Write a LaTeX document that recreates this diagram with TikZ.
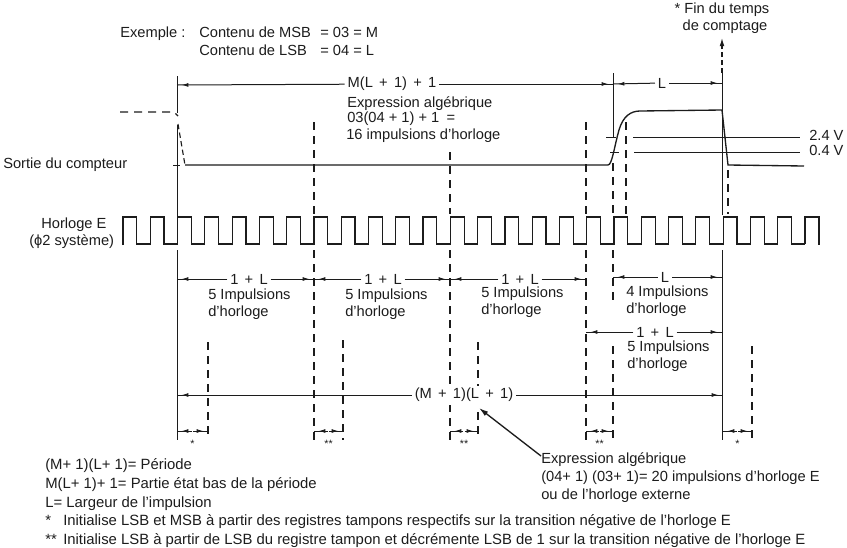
\documentclass[tikz,border=0pt]{standalone}
\usepackage{fontspec}
\usepackage{xcolor}
\usetikzlibrary{arrows.meta,decorations.markings}
\setmainfont{Liberation Sans}
\definecolor{ink}{RGB}{28,28,28}
\newcommand{\esp}{\hspace{4.7pt}}
\tikzset{
  trait/.style={ink,line width=0.75pt},
  signal/.style={ink,line width=1pt},
  tiret/.style={ink,line width=0.85pt,dash pattern=on 6pt off 4.5pt},
  cote/.style={ink,line width=0.75pt,postaction={decorate},
    decoration={markings,mark=at position -3.5pt with {\arrow{Latex[length=5pt,width=3pt]}}}},
  texte/.style={anchor=base west,inner sep=0pt,text=ink,font=\fontsize{11}{13}\selectfont},
  petit/.style={anchor=base west,inner sep=0pt,text=ink,font=\fontsize{11.15}{13}\selectfont},
  bloc/.style={anchor=west,align=left,inner sep=0pt,text=ink,font=\fontsize{11}{13}\selectfont},
  label/.style={inner sep=2pt,text=ink,font=\fontsize{11}{13}\selectfont}
}
\begin{document}
\begin{tikzpicture}[x=0.75pt,y=-0.75pt]
  \useasboundingbox (0,0) rectangle (847,547);
  % textes du haut
  \node[texte] (exemple) at (120,37) {Exemple :};
  \node[texte] (msb) at (199,37) {Contenu de MSB};
  \node[texte] (msbval) at (320,37) {= 03 = M};
  \node[texte] (lsb) at (199,55) {Contenu de LSB};
  \node[texte] (lsbval) at (320,55) {= 04 = L};
  \node[label] (fin) at (722,10) {* Fin du temps};
  \node[label] (comptage) at (725,27) {de comptage};
  \node[texte] (expra) at (347,107) {Expression algébrique};
  \node[texte] (exprb) at (347,122) {03(04 + 1) + 1\enspace =};
  \node[texte] (exprc) at (346,139) {16 impulsions d'horloge};
  \node[texte] (sortie) at (3,168) {Sortie du compteur};
  \node[texte] (horloge) at (41,228) {Horloge E};
  \node[texte] (phase) at (29,245) {(ϕ2 système)};
  \node[texte] (volta) at (809,140) {2.4 V};
  \node[texte] (voltb) at (809,155) {0.4 V};

  % sortie du compteur
  \draw[tiret] (120,112)--(174,112)--(178,116);
  \draw[tiret,dash pattern=on 4pt off 2.5pt] (178,124)--(185,165);
  \draw[signal] (185,165)--(608,165) .. controls (612,165) and (614,148) .. (619,130) .. controls (623,116) and (631,111) .. (640,111)--(722,110)--(728,165)--(804,166);
  \draw[trait] (606,137)--(616,137);
  \draw[trait] (633,137)--(800,137);
  \draw[trait] (610,152)--(619,152);
  \draw[trait] (634,152)--(800,152);
  \draw[trait] (173,165)--(180,165);

  % horloge E
  \foreach \n in {0,...,24} {
    \pgfmathsetmacro{\xa}{123+27.28*\n}
    \draw[trait,line width=0.9pt] (\xa,245)--(\xa,217)--(\xa+13.8,217)--(\xa+13.8,244)--(\xa+27.28,244);
  }
  \draw[trait,line width=0.9pt] (805,244)--(805,217)--(819,217)--(819,245);

  % verticales
  \draw[trait] (177,76)--(177,113);
  \draw[trait] (177,125)--(177,216);
  \draw[trait] (177,250)--(177,440);
  \draw[trait] (613,73)--(613,138);
  \draw[tiret] (613,163)--(613,216);
  \draw[tiret] (613,250)--(613,300);
  \draw[tiret] (613,346)--(613,440);
  \draw[tiret] (626,122)--(626,216);
  \draw[trait] (722,73)--(722,215);
  \draw[trait] (722,250)--(722,440);
  \draw[tiret] (728,170)--(728,214);
  \draw[tiret] (314,122)--(314,214);
  \draw[tiret] (314,250)--(314,440);
  \draw[tiret] (450,152)--(450,214);
  \draw[tiret] (450,250)--(450,440);
  \draw[tiret] (586,122)--(586,214);
  \draw[tiret] (586,250)--(586,440);
  \draw[tiret] (208,342)--(208,440);
  \draw[tiret] (343,340)--(343,440);
  \draw[tiret] (478,342)--(478,403);
  \draw[tiret] (478,412)--(478,440);
  \draw[tiret] (752,346)--(752,440);

  \coordinate (tfin) at (722,73);
  \coordinate (tfinh) at (722,38);
  \draw[tiret,dash pattern=on 4pt off 2pt,-{Latex[length=6pt,width=3.5pt]}] (tfin)--(tfinh);

  % cotes
  \coordinate (ha) at (177,85);
  \coordinate (hb) at (613,84);
  \coordinate (hc) at (722,83);
  \node[label] (ml) at (392,84) {M(L\esp+\esp1)\esp+\esp1};
  \node[label] (lh) at (662,83) {L};
  \draw[cote] (ml)--(ha);
  \draw[cote] (ml)--(hb);
  \draw[cote] (lh)--(hb);
  \draw[cote] (lh)--(hc);

  \coordinate (ba) at (177,279);
  \coordinate (bb) at (314,279);
  \coordinate (bc) at (450,279);
  \coordinate (bd) at (586,279);
  \node[label] (una) at (249,279) {1\esp+\esp L};
  \node[label] (unb) at (383,279) {1\esp+\esp L};
  \node[label] (unc) at (520,279) {1\esp+\esp L};
  \draw[cote] (una)--(ba);
  \draw[cote] (una)--(bb);
  \draw[cote] (unb)--(bb);
  \draw[cote] (unb)--(bc);
  \draw[cote] (unc)--(bc);
  \draw[cote] (unc)--(bd);

  \coordinate (ca) at (613,277);
  \coordinate (cb) at (722,277);
  \node[label] (lc) at (665,277) {L};
  \draw[trait] (613,277)--(613,284);
  \draw[cote] (lc)--(ca);
  \draw[cote] (lc)--(cb);

  \coordinate (da) at (586,332);
  \coordinate (db) at (722,332);
  \node[label] (und) at (655,332) {1\esp+\esp L};
  \draw[cote] (und)--(da);
  \draw[cote] (und)--(db);

  \coordinate (ea) at (177,395);
  \coordinate (eb) at (723,395);
  \node[label,fill=white] (per) at (464,395) {(M\esp+\esp1)(L\esp+\esp1)};
  \draw[cote] (per)--(ea);
  \draw[cote] (per)--(eb);

  % textes des impulsions
  \node[bloc] (ia) at (208,304) {5 Impulsions\\d'horloge};
  \node[bloc] (ib) at (345,304) {5 Impulsions\\d'horloge};
  \node[bloc] (ic) at (481,302) {5 Impulsions\\d'horloge};
  \node[bloc] (id) at (626,301) {4 Impulsions\\d'horloge};
  \node[bloc] (ie) at (627,356) {5 Impulsions\\d'horloge};

  % petites cotes du bas
  \foreach \xa/\xb/\mk/\nom in {177/208/*/pa,314/343/**/pb,450/478/**/pc,586/613/**/pd,723/752/*/pe} {
    \coordinate (\nom a) at (\xa,431);
    \coordinate (\nom b) at (\xb,431);
    \node[inner sep=0pt] (\nom c) at ({(\xa+\xb)/2},431) {};
    \draw[cote] (\nom c)--(\nom a);
    \draw[cote] (\nom c)--(\nom b);
    \node[label,inner sep=0pt,font=\fontsize{8}{9}\selectfont] (\nom m) at ({(\xa+\xb)/2},444) {\mk};
  }

  % expression
  \node[texte] (alg) at (541,463) {Expression algébrique};
  \node[texte] (algb) at (541,481) {(04+ 1) (03+ 1)= 20 impulsions d'horloge E};
  \node[texte] (algc) at (541,499) {ou de l'horloge externe};
  \coordinate (flec) at (479,408);
  \draw[trait,line width=1pt,-{Latex[length=7pt,width=4pt]}] (alg.base west)+(0,-7)--(flec);

  % notes
  \node[petit] (na) at (45,469) {(M+ 1)(L+ 1)= Période};
  \node[petit] (nb) at (45,488) {M(L+ 1)+ 1= Partie état bas de la période};
  \node[petit] (nc) at (45,507) {L= Largeur de l'impulsion};
  \node[petit] (nd) at (45,525) {*};
  \node[petit] (ne) at (63,525) {Initialise LSB et MSB à partir des registres tampons respectifs sur la transition négative de l'horloge E};
  \node[petit] (nf) at (45,544) {**};
  \node[petit] (ng) at (63,544) {Initialise LSB à partir de LSB du registre tampon et décrémente LSB de 1 sur la transition négative de l'horloge E};
\end{tikzpicture}
\end{document}
